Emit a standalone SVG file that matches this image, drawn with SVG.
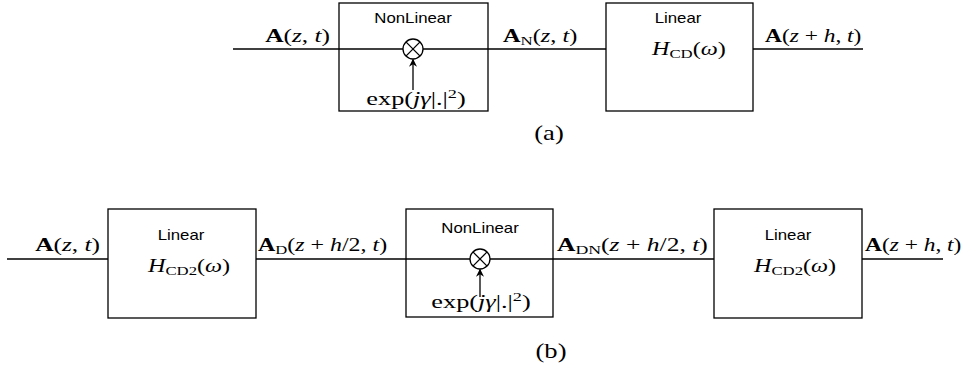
<svg xmlns="http://www.w3.org/2000/svg" width="976" height="368" viewBox="0 0 976 368">
<style>
.box{fill:none;stroke:#000;stroke-width:1.3}
.ln{fill:none;stroke:#000;stroke-width:1.3}
.m{font-family:"Liberation Serif","DejaVu Serif",serif;font-size:18px;fill:#000}
.s{font-family:"Liberation Sans",Arial,sans-serif;font-size:14px;fill:#000}
.cap{font-size:20px}
.b{font-weight:bold}
.i{font-style:italic}
.sub{font-size:12.5px}
</style>
<defs>
<marker id="arr" viewBox="0 0 10 10" refX="9" refY="5" markerWidth="8" markerHeight="8" markerUnits="userSpaceOnUse" orient="auto">
<path d="M0,0 L10,5 L0,10 L3,5 z" fill="#000"/>
</marker>
</defs>
<g id="connectors">
<line class="ln" x1="233" y1="49" x2="403" y2="49"/>
<line class="ln" x1="423" y1="49" x2="606" y2="49"/>
<line class="ln" x1="753" y1="49" x2="863" y2="49"/>
<line class="ln" x1="413" y1="90" x2="413" y2="59.5" marker-end="url(#arr)"/>
<line class="ln" x1="7" y1="259" x2="108" y2="259"/>
<line class="ln" x1="256" y1="259" x2="470" y2="259"/>
<line class="ln" x1="490" y1="259" x2="714" y2="259"/>
<line class="ln" x1="862" y1="259" x2="943" y2="259"/>
<line class="ln" x1="480" y1="297" x2="480" y2="269.5" marker-end="url(#arr)"/>
</g>
<g id="nonlinear-a">
<rect class="box" x="339" y="3" width="149" height="108"/>
<text class="s" transform="translate(413,23) scale(1.2,1)" text-anchor="middle">NonLinear</text>
<circle class="box" cx="413" cy="49" r="10"/>
<line class="ln" x1="405.9" y1="41.9" x2="420.1" y2="56.1"/>
<line class="ln" x1="420.1" y1="41.9" x2="405.9" y2="56.1"/>
<text class="m" transform="translate(416,105) scale(1.46,1)" text-anchor="middle">exp(<tspan class="i">jγ</tspan>|.|<tspan class="sub" dy="-7">2</tspan><tspan dy="7">)</tspan></text>
</g>
<g id="linear-a">
<rect class="box" x="606" y="3" width="147" height="108"/>
<text class="s" transform="translate(678,23) scale(1.2,1)" text-anchor="middle">Linear</text>
<text class="m" transform="translate(652,55) scale(1.34,1)"><tspan class="i">H</tspan><tspan class="sub" dy="3">CD</tspan><tspan dy="-3">(</tspan><tspan class="i">ω</tspan>)</text>
</g>
<g id="labels-a">
<text class="m" transform="translate(330,42) scale(1.41,1)" text-anchor="end"><tspan class="b">A</tspan>(<tspan class="i">z</tspan>, <tspan class="i">t</tspan>)</text>
<text class="m" transform="translate(503,42) scale(1.35,1)"><tspan class="b">A</tspan><tspan class="sub" dy="3">N</tspan><tspan dy="-3">(</tspan><tspan class="i">z</tspan>, <tspan class="i">t</tspan>)</text>
<text class="m" transform="translate(765,42) scale(1.3,1)"><tspan class="b">A</tspan>(<tspan class="i">z</tspan> + <tspan class="i">h</tspan>, <tspan class="i">t</tspan>)</text>
<text class="m cap" transform="translate(549,140) scale(1.33,1)" text-anchor="middle">(a)</text>
</g>
<g id="linear-b1">
<rect class="box" x="108" y="209" width="148" height="109"/>
<text class="s" transform="translate(181,240) scale(1.2,1)" text-anchor="middle">Linear</text>
<text class="m" transform="translate(148,272) scale(1.34,1)"><tspan class="i">H</tspan><tspan class="sub" dy="3">CD2</tspan><tspan dy="-3">(</tspan><tspan class="i">ω</tspan>)</text>
</g>
<g id="nonlinear-b">
<rect class="box" x="406" y="209" width="147" height="108"/>
<text class="s" transform="translate(480,233) scale(1.2,1)" text-anchor="middle">NonLinear</text>
<circle class="box" cx="480" cy="259" r="10"/>
<line class="ln" x1="472.9" y1="251.9" x2="487.1" y2="266.1"/>
<line class="ln" x1="487.1" y1="251.9" x2="472.9" y2="266.1"/>
<text class="m" transform="translate(481,308) scale(1.46,1)" text-anchor="middle">exp(<tspan class="i">jγ</tspan>|.|<tspan class="sub" dy="-7">2</tspan><tspan dy="7">)</tspan></text>
</g>
<g id="linear-b2">
<rect class="box" x="714" y="209" width="148" height="109"/>
<text class="s" transform="translate(788,240) scale(1.2,1)" text-anchor="middle">Linear</text>
<text class="m" transform="translate(754,272) scale(1.34,1)"><tspan class="i">H</tspan><tspan class="sub" dy="3">CD2</tspan><tspan dy="-3">(</tspan><tspan class="i">ω</tspan>)</text>
</g>
<g id="labels-b">
<text class="m" transform="translate(100,251) scale(1.41,1)" text-anchor="end"><tspan class="b">A</tspan>(<tspan class="i">z</tspan>, <tspan class="i">t</tspan>)</text>
<text class="m" transform="translate(258,251) scale(1.33,1)"><tspan class="b">A</tspan><tspan class="sub" dy="3">D</tspan><tspan dy="-3">(</tspan><tspan class="i">z</tspan> + <tspan class="i">h</tspan>/2, <tspan class="i">t</tspan>)</text>
<text class="m" transform="translate(557,251) scale(1.42,1)"><tspan class="b">A</tspan><tspan class="sub" dy="3">DN</tspan><tspan dy="-3">(</tspan><tspan class="i">z</tspan> + <tspan class="i">h</tspan>/2, <tspan class="i">t</tspan>)</text>
<text class="m" transform="translate(865,251) scale(1.3,1)"><tspan class="b">A</tspan>(<tspan class="i">z</tspan> + <tspan class="i">h</tspan>, <tspan class="i">t</tspan>)</text>
<text class="m cap" transform="translate(551,358) scale(1.33,1)" text-anchor="middle">(b)</text>
</g>
</svg>
